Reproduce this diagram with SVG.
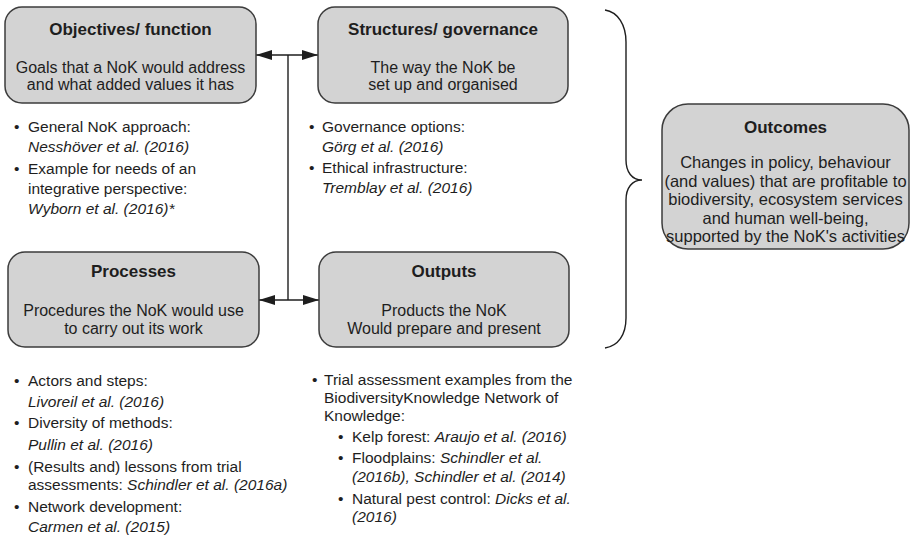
<svg xmlns="http://www.w3.org/2000/svg" width="910" height="537" viewBox="0 0 910 537">
<style>
text{font-family:"Liberation Sans",Arial,sans-serif;fill:#1e1e1e}
.box{fill:#d3d3d3;stroke:#3c3c3c;stroke-width:1.5}
.t{font-size:17px;font-weight:bold;text-anchor:middle}
.b{font-size:16px;text-anchor:middle}
.ob{font-size:16.5px;text-anchor:middle}
.l{font-size:15.5px}
.i{font-style:italic}
.con{stroke:#1e1e1e;stroke-width:1.4;fill:none}
</style>
<defs>
<marker id="ah" viewBox="0 0 16 10" refX="16" refY="5" markerWidth="16" markerHeight="10" markerUnits="userSpaceOnUse" orient="auto-start-reverse">
<path d="M0,0 L16,5 L0,10 z" fill="#1e1e1e"/>
</marker>
</defs>
<g id="connectors">
<line class="con" x1="256" y1="55" x2="318" y2="55" marker-start="url(#ah)" marker-end="url(#ah)"/>
<line class="con" x1="288" y1="55" x2="288" y2="300"/>
<line class="con" x1="259" y1="300" x2="319" y2="300" marker-start="url(#ah)" marker-end="url(#ah)"/>
<path class="con" d="M605,10 C618,12 626,25 626,42 L626,160 C626,172 632,180 642,180 C632,180 626,188 626,200 L626,318 C626,335 618,346 605,348" stroke="#333" stroke-width="1.2"/>
</g>
<g id="objectives">
<rect class="box" x="5" y="7" width="251" height="96" rx="17"/>
<text class="t" x="130.5" y="35">Objectives/ function</text>
<text class="b" x="130.5" y="73">Goals that a NoK would address</text>
<text class="b" x="130.5" y="90">and what added values it has</text>
<text class="l" x="14" y="132">•</text><text class="l" x="28" y="132">General NoK approach:</text>
<text class="l i" x="28" y="152">Nesshöver et al. (2016)</text>
<text class="l" x="14" y="174">•</text><text class="l" x="28" y="174">Example for needs of an</text>
<text class="l" x="28" y="194">integrative perspective:</text>
<text class="l i" x="28" y="214">Wyborn et al. (2016)*</text>
</g>
<g id="structures">
<rect class="box" x="318" y="7" width="250" height="96" rx="17"/>
<text class="t" x="443" y="35">Structures/ governance</text>
<text class="b" x="443" y="73">The way the NoK be</text>
<text class="b" x="443" y="90">set up and organised</text>
<text class="l" x="309" y="132">•</text><text class="l" x="322" y="132">Governance options:</text>
<text class="l i" x="322" y="152">Görg et al. (2016)</text>
<text class="l" x="309" y="173">•</text><text class="l" x="322" y="173">Ethical infrastructure:</text>
<text class="l i" x="322" y="193">Tremblay et al. (2016)</text>
</g>
<g id="processes">
<rect class="box" x="8" y="252" width="251" height="95" rx="17"/>
<text class="t" x="133.5" y="277">Processes</text>
<text class="b" x="133.5" y="316">Procedures the NoK would use</text>
<text class="b" x="133.5" y="334">to carry out its work</text>
<text class="l" x="14" y="386">•</text><text class="l" x="28" y="386">Actors and steps:</text>
<text class="l i" x="28" y="407">Livoreil et al. (2016)</text>
<text class="l" x="14" y="428">•</text><text class="l" x="28" y="428">Diversity of methods:</text>
<text class="l i" x="28" y="450">Pullin et al. (2016)</text>
<text class="l" x="14" y="472">•</text><text class="l" x="28" y="472">(Results and) lessons from trial</text>
<text class="l" x="28" y="490">assessments: <tspan class="i">Schindler et al. (2016a)</tspan></text>
<text class="l" x="14" y="512">•</text><text class="l" x="28" y="512">Network development:</text>
<text class="l i" x="28" y="532">Carmen et al. (2015)</text>
</g>
<g id="outputs">
<rect class="box" x="319" y="252" width="250" height="95" rx="17"/>
<text class="t" x="444" y="277">Outputs</text>
<text class="b" x="444" y="316">Products the NoK</text>
<text class="b" x="444" y="334">Would prepare and present</text>
<text class="l" x="312" y="385">•</text><text class="l" x="324" y="385">Trial assessment examples from the</text>
<text class="l" x="324" y="403">BiodiversityKnowledge Network of</text>
<text class="l" x="324" y="421">Knowledge:</text>
<text class="l" x="338" y="442">•</text><text class="l" x="352" y="442">Kelp forest: <tspan class="i">Araujo et al. (2016)</tspan></text>
<text class="l" x="338" y="463">•</text><text class="l" x="352" y="463">Floodplains: <tspan class="i">Schindler et al.</tspan></text>
<text class="l i" x="352" y="482">(2016b), Schindler et al. (2014)</text>
<text class="l" x="338" y="504">•</text><text class="l" x="352" y="504">Natural pest control: <tspan class="i">Dicks et al.</tspan></text>
<text class="l i" x="352" y="522">(2016)</text>
</g>
<g id="outcomes">
<rect class="box" x="662" y="104" width="247" height="145" rx="26"/>
<text class="t" x="785.5" y="133">Outcomes</text>
<text class="ob" x="785.5" y="168">Changes in policy, behaviour</text>
<text class="ob" x="785.5" y="187">(and values) that are profitable to</text>
<text class="ob" x="785.5" y="205">biodiversity, ecosystem services</text>
<text class="ob" x="785.5" y="224">and human well-being,</text>
<text class="ob" x="785.5" y="242">supported by the NoK's activities</text>
</g>
</svg>
